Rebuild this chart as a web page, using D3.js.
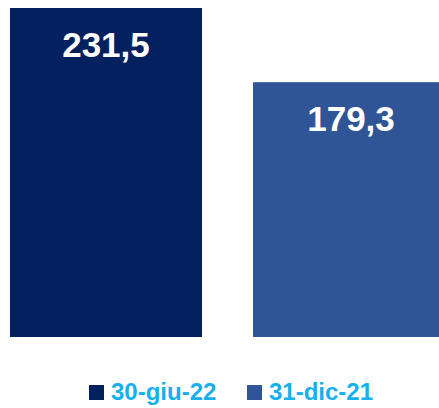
<!DOCTYPE html>
<html>
<head>
<meta charset="utf-8">
<script src="https://cdn.jsdelivr.net/npm/d3@7"></script>
<style>
  html, body { margin: 0; padding: 0; background: #fff; }
  svg { display: block; }
</style>
</head>
<body>
<div id="chart"></div>
<script>
// data
var categories = ["30-giu-22", "31-dic-21"];
var values = [231.5, 179.3];
var labels = ["231,5", "179,3"];
var colors = ["#03205f", "#2f5597"];

var width = 439;
var height = 408;
var baseline = 337;

var svg = d3.select("#chart")
    .append("svg")
    .attr("width", width)
    .attr("height", height);

var x = d3.scaleBand()
    .domain(categories)
    .range([10, 445])
    .paddingInner(0.21)
    .paddingOuter(0);

var y = d3.scaleLinear()
    .domain([0, d3.max(values)])
    .range([baseline, 8]);

var color = d3.scaleOrdinal()
    .domain(categories)
    .range(colors);

var bars = svg.selectAll(".bar")
    .data(categories)
    .enter().append("g")
    .attr("class", "bar");

bars.append("rect")
    .attr("x", function (d) { return x(d); })
    .attr("y", function (d, i) { return y(values[i]); })
    .attr("width", x.bandwidth())
    .attr("height", function (d, i) { return baseline - y(values[i]); })
    .attr("fill", function (d) { return color(d); });

// value labels inside the top of each bar
bars.append("text")
    .attr("x", function (d) { return x(d) + x.bandwidth() / 2 - (d === categories[1] ? -2 : 0); })
    .attr("y", function (d, i) { return y(values[i]) + 49; })
    .attr("text-anchor", "middle")
    .attr("fill", "#fff")
    .style("font-family", "'Liberation Sans', Arial, sans-serif")
    .style("font-weight", "bold")
    .style("font-size", "35px")
    .text(function (d, i) { return labels[i]; });

// legend
var legendX = [89, 247];
var legend = svg.selectAll(".legend")
    .data(categories)
    .enter().append("g")
    .attr("class", "legend")
    .attr("transform", function (d, i) { return "translate(" + legendX[i] + ",385)"; });

legend.append("rect")
    .attr("width", 15)
    .attr("height", 15)
    .attr("fill", function (d) { return color(d); });

legend.append("text")
    .attr("x", 22)
    .attr("y", 15)
    .attr("fill", "#17b0ec")
    .style("font-family", "'Liberation Sans', Arial, sans-serif")
    .style("font-weight", "bold")
    .style("font-size", "24px")
    .text(function (d) { return d; });
</script>
</body>
</html>
